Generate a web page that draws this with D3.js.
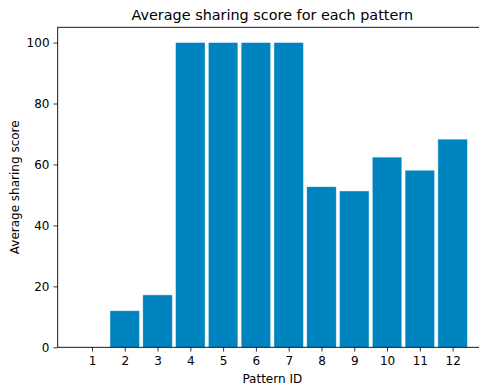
<!DOCTYPE html>
<html><head><meta charset="utf-8">
<script src="https://cdn.jsdelivr.net/npm/d3@7"></script>
<style>body{margin:0;background:#fff;}svg{display:block;font-family:"DejaVu Sans",sans-serif;}</style>
</head><body><div id="chart"></div>
<script>
const patternIds = [1,2,3,4,5,6,7,8,9,10,11,12];
const scores = [0,12.0,17.2,100,100,100,100,52.7,51.3,62.4,58.1,68.3];
const yTicks = [0,20,40,60,80,100];
const title = "Average sharing score for each pattern";
const xLabel = "Pattern ID";
const yLabel = "Average sharing score";

(function(){
const W = 479, H = 387;
const mLeft = 57.7, mRight = 486.9, mTop = 27.3, mBottom = 347.3;
const svg = d3.select("#chart").append("svg").attr("width", W).attr("height", H);

const x = d3.scaleLinear().domain([-0.045, 13.045]).range([mLeft, mRight]);
const y = d3.scaleLinear().domain([0, 105]).range([mBottom, mTop]);

svg.append("g").selectAll("rect").data(patternIds).join("rect")
  .attr("x", d => x(d - 0.45))
  .attr("width", d => x(d + 0.45) - x(d - 0.45))
  .attr("y", (d,i) => y(scores[i]))
  .attr("height", (d,i) => y(0) - y(scores[i]))
  .attr("fill", "#0084bf")
  .attr("stroke", "#ffffff")
  .attr("stroke-opacity", 0.6)
  .attr("stroke-width", 0.7);

const xAxis = svg.append("g").attr("transform", `translate(0,${mBottom})`)
  .call(d3.axisBottom(x).tickValues(patternIds).tickSize(4.2).tickPadding(5).tickFormat(d3.format("d")));
const yAxis = svg.append("g").attr("transform", `translate(${mLeft},0)`)
  .call(d3.axisLeft(y).tickValues(yTicks).tickSize(4.2).tickPadding(4).tickFormat(d3.format("d")));
[xAxis, yAxis].forEach(g => {
  g.select(".domain").remove();
  g.selectAll("line").attr("stroke", "#000").attr("stroke-width", 0.8);
  g.selectAll("text").attr("font-family", "DejaVu Sans").attr("font-size", 12).attr("fill", "#000");
});

const sp = svg.append("g").attr("stroke", "#000").attr("stroke-width", 0.9).attr("fill", "none");
sp.append("rect").attr("x", mLeft).attr("y", mTop).attr("width", mRight - mLeft).attr("height", mBottom - mTop);

svg.append("text").attr("x", (mLeft + mRight) / 2).attr("y", 20).attr("text-anchor", "middle")
  .attr("font-size", 14.4).attr("fill", "#000").text(title);
svg.append("text").attr("x", (mLeft + mRight) / 2).attr("y", 382.5).attr("text-anchor", "middle")
  .attr("font-size", 12).attr("fill", "#000").text(xLabel);
svg.append("text").attr("transform", `translate(18.6,${(mTop + mBottom) / 2}) rotate(-90)`).attr("text-anchor", "middle")
  .attr("font-size", 12).attr("fill", "#000").text(yLabel);
})();
</script></body></html>
